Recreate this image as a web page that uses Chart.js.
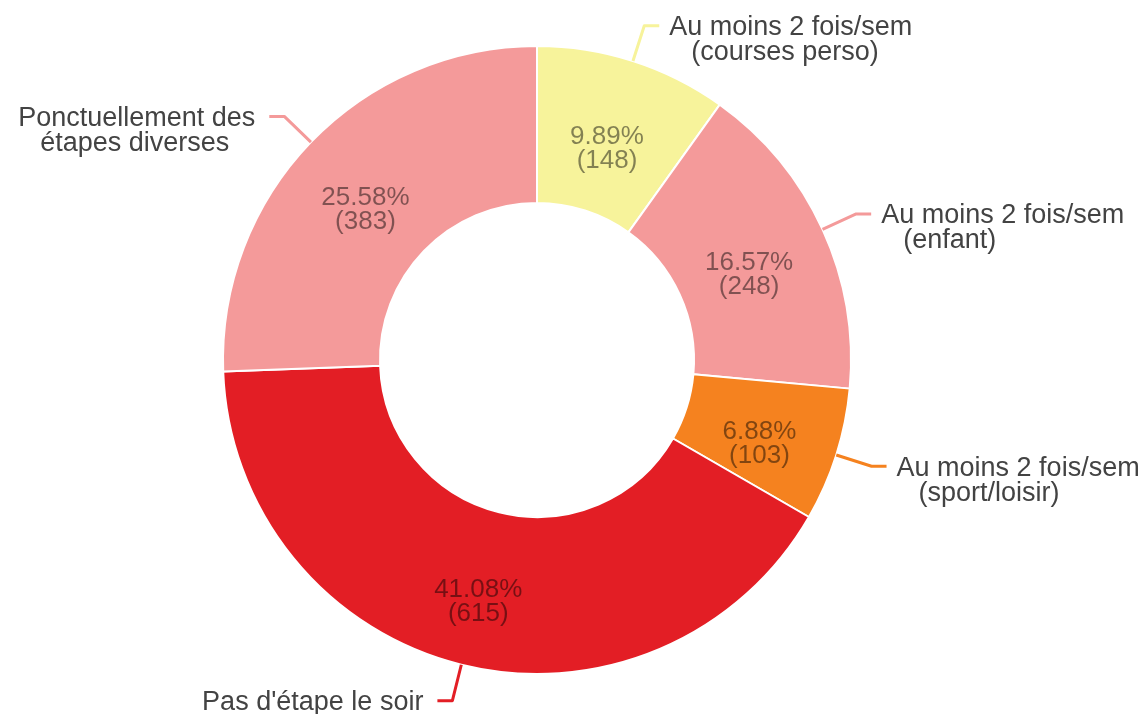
<!DOCTYPE html>
<html>
<head>
<meta charset="utf-8">
<script src="https://cdn.jsdelivr.net/npm/chart.js@4/dist/chart.umd.min.js"></script>
<style>
  html, body { margin: 0; padding: 0; background: #fff; }
  #wrap { width: 1141px; height: 714px; }
</style>
</head>
<body>
<div id="wrap"><canvas id="chart"></canvas></div>
<script>
const LABELS = [
  ['Au moins 2 fois/sem', '(courses perso)'],
  ['Au moins 2 fois/sem', '(enfant)'],
  ['Au moins 2 fois/sem', '(sport/loisir)'],
  ["Pas d'étape le soir"],
  ['Ponctuellement des', 'étapes diverses']
];
const COUNTS = [148, 248, 103, 615, 383];
const COLORS = ['#f7f39b', '#f49a9a', '#f5821f', '#e31e25', '#f49a9a'];

const FONT = '"Liberation Sans", Arial, sans-serif';

// leader lines + outside labels, and percent/count labels inside each slice
const sliceLabels = {
  id: 'sliceLabels',
  afterDatasetsDraw(chart) {
    const ctx = chart.ctx;
    const meta = chart.getDatasetMeta(0);
    const total = COUNTS.reduce((s, v) => s + v, 0);
    meta.data.forEach((arc, i) => {
      const p = arc.getProps(['x', 'y', 'startAngle', 'endAngle', 'outerRadius', 'innerRadius'], true);
      const mid = (p.startAngle + p.endAngle) / 2;
      const cos = Math.cos(mid), sin = Math.sin(mid);

      // inner label
      const c = arc.getCenterPoint();
      ctx.save();
      ctx.font = '26px ' + FONT;
      ctx.fillStyle = 'rgba(0,0,0,0.47)';
      ctx.textAlign = 'center';
      ctx.textBaseline = 'middle';
      const pct = (COUNTS[i] / total * 100).toFixed(2) + '%';
      ctx.fillText(pct, c.x - 2, c.y + 1);
      ctx.fillText('(' + COUNTS[i] + ')', c.x - 2, c.y + 25);
      ctx.restore();

      // leader line
      const x0 = p.x + cos * p.outerRadius, y0 = p.y + sin * p.outerRadius;
      const x1 = p.x + cos * (p.outerRadius + 37), y1 = p.y + sin * (p.outerRadius + 37);
      const right = cos >= 0;
      const x2 = x1 + (right ? 15 : -15);
      ctx.save();
      ctx.strokeStyle = COLORS[i];
      ctx.lineWidth = 3;
      ctx.lineJoin = 'round';
      ctx.beginPath();
      ctx.moveTo(x0, y0);
      ctx.lineTo(x1, y1);
      ctx.lineTo(x2, y1);
      ctx.stroke();

      // outside label
      ctx.font = '27px ' + FONT;
      ctx.fillStyle = '#434343';
      ctx.textBaseline = 'middle';
      ctx.textAlign = 'left';
      const lines = LABELS[i];
      const w1 = ctx.measureText(lines[0]).width;
      const tx = right ? x2 + 10 : x2 - 14 - w1;
      lines.forEach((t, k) => {
        ctx.fillText(t, tx + (k ? 22 : 0), y1 + 2 + k * 25);
      });
      ctx.restore();
    });
  }
};

new Chart(document.getElementById('chart'), {
  type: 'doughnut',
  data: {
    labels: LABELS.map(l => l.join(' ')),
    datasets: [{
      data: COUNTS,
      backgroundColor: COLORS,
      borderColor: '#ffffff',
      borderWidth: 2
    }]
  },
  options: {
    responsive: true, maintainAspectRatio: false,
    animation: false,
    cutout: '50%',
    layout: { padding: { left: 222, right: 289, top: 45, bottom: 39 } },
    plugins: { legend: { display: false }, tooltip: { enabled: false } }
  },
  plugins: [sliceLabels]
});
</script>
</body>
</html>
